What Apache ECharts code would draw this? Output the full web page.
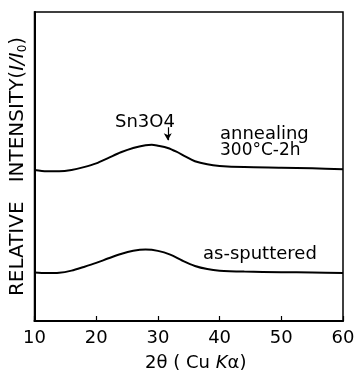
<!DOCTYPE html>
<html><head><meta charset="utf-8">
<script src="https://cdn.jsdelivr.net/npm/echarts@6/dist/echarts.min.js"></script>
<style>html,body{margin:0;padding:0;background:#fff}#c{width:361px;height:377px}</style>
</head><body><div id="c"></div>
<script>
// 2θ positions and relative intensities (arbitrary units, offset traces)
const asSputteredX = [10, 12, 14, 16, 18, 20, 22, 24, 26, 28, 30, 32, 34, 36, 38, 40, 44, 50, 55, 60];
const asSputteredY = [1.57, 1.55, 1.56, 1.63, 1.75, 1.88, 2.03, 2.17, 2.27, 2.31, 2.27, 2.15, 1.95, 1.78, 1.68, 1.63, 1.60, 1.58, 1.57, 1.55];
const annealedX = [10, 12, 14, 16, 18, 20, 22, 24, 26, 28, 29, 30, 31.6, 33, 34.5, 36, 38, 40, 44, 50, 55, 60];
const annealedY = [4.89, 4.85, 4.85, 4.89, 4.98, 5.10, 5.28, 5.46, 5.60, 5.69, 5.70, 5.67, 5.60, 5.48, 5.32, 5.17, 5.07, 5.02, 4.98, 4.96, 4.94, 4.91];
const xTicks = [10, 20, 30, 40, 50, 60];
const peakLabel = 'Sn3O4';
const peakX = 31.6;
const arrowY = [6.27, 5.85];

const chart = echarts.init(document.getElementById('c'));
const font = 'DejaVu Sans';
const zip = (xs, ys) => xs.map((x, i) => [x, ys[i]]);
chart.setOption({
  animation: false,
  grid: {left: 33, right: 18, top: 12, bottom: 49, show: true, borderColor: '#000', borderWidth: 1.5, backgroundColor: 'transparent'},
  xAxis: {
    type: 'value', min: xTicks[0], max: xTicks[xTicks.length - 1], interval: 10,
    axisLine: {lineStyle: {color: '#000', width: 2}},
    axisTick: {inside: true, length: 5, lineStyle: {color: '#000', width: 1.2}},
    splitLine: {show: false},
    axisLabel: {color: '#000', fontFamily: font, fontSize: 18, margin: 8},
    name: '{n|2θ ( Cu }{k|K}{n|α)}', nameLocation: 'middle', nameGap: 33,
    nameTextStyle: {rich: {n: {fontFamily: font, fontSize: 18, color: '#000'}, k: {fontFamily: font, fontSize: 18, fontStyle: 'italic', color: '#000'}}, padding: [0, 0, 0, 14]}
  },
  yAxis: {
    type: 'value', min: 0, max: 10,
    axisLine: {show: true, lineStyle: {color: '#000', width: 2}},
    axisTick: {show: false}, axisLabel: {show: false}, splitLine: {show: false},
    name: '{n|RELATIVE   INTENSITY(}{i|I/I}{s|0}{n|)}', nameLocation: 'middle', nameGap: 6, nameRotate: 90,
    nameTextStyle: {rich: {
      n: {fontFamily: font, fontSize: 20, color: '#000'},
      i: {fontFamily: font, fontSize: 20, fontStyle: 'italic', color: '#000'},
      s: {fontFamily: font, fontSize: 12, color: '#000', padding: [9, 0, 0, 0]}
    }}
  },
  series: [
    {type: 'line', data: zip(asSputteredX, asSputteredY), smooth: 0.3, symbol: 'none', lineStyle: {color: '#000', width: 2}},
    {type: 'line', data: zip(annealedX, annealedY), smooth: 0.3, symbol: 'none', lineStyle: {color: '#000', width: 2},
      markLine: {silent: true, symbol: ['none', 'arrow'], symbolSize: [6, 7], label: {show: false},
        lineStyle: {color: '#000', width: 1.2, type: 'solid'},
        data: [[{coord: [peakX, arrowY[0]]}, {coord: [peakX, arrowY[1]]}]]}}
  ],
  graphic: [
    {type: 'text', left: 115, top: 113, style: {text: peakLabel, font: '18px "DejaVu Sans"', fill: '#000'}},
    {type: 'text', left: 220, top: 125, style: {text: 'annealing', font: '18px "DejaVu Sans"', fill: '#000'}},
    {type: 'text', left: 220, top: 142, style: {text: '300°C-2h', font: '17px "DejaVu Sans"', fill: '#000'}},
    {type: 'text', left: 203, top: 245, style: {text: 'as-sputtered', font: '18px "DejaVu Sans"', fill: '#000'}}
  ]
});
</script></body></html>
